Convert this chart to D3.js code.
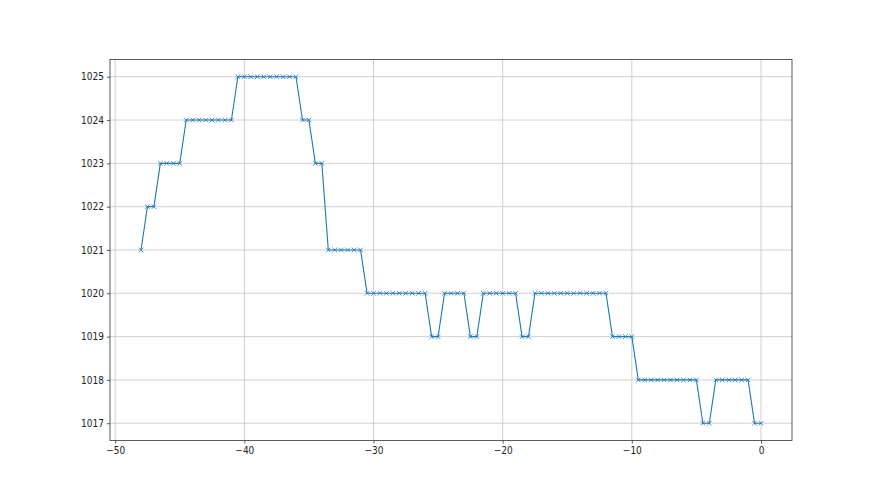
<!DOCTYPE html>
<html>
<head>
<meta charset="utf-8">
<script src="https://cdn.jsdelivr.net/npm/d3@7"></script>
<style>
  body { margin: 0; background: #fff; }
  svg { display: block; }
  .tick text { font-family: "Liberation Sans Narrow", "DejaVu Sans Condensed", sans-serif; font-size: 10px; fill: #222; }
</style>
</head>
<body>
<div class="chart"></div>
<script>
// hours relative to now
var hours = [-48, -47.5, -47, -46.5, -46, -45.5, -45, -44.5, -44, -43.5, -43, -42.5, -42, -41.5, -41,
    -40.5, -40, -39.5, -39, -38.5, -38, -37.5, -37, -36.5, -36, -35.5, -35, -34.5, -34,
    -33.5, -33, -32.5, -32, -31.5, -31, -30.5, -30, -29.5, -29, -28.5, -28, -27.5, -27, -26.5, -26,
    -25.5, -25, -24.5, -24, -23.5, -23, -22.5, -22, -21.5, -21, -20.5, -20, -19.5, -19,
    -18.5, -18, -17.5, -17, -16.5, -16, -15.5, -15, -14.5, -14, -13.5, -13, -12.5, -12,
    -11.5, -11, -10.5, -10, -9.5, -9, -8.5, -8, -7.5, -7, -6.5, -6, -5.5, -5,
    -4.5, -4, -3.5, -3, -2.5, -2, -1.5, -1, -0.5, 0];

// pressure readings
var pressure = [1021, 1022, 1022, 1023, 1023, 1023, 1023, 1024, 1024, 1024, 1024, 1024, 1024, 1024, 1024,
    1025, 1025, 1025, 1025, 1025, 1025, 1025, 1025, 1025, 1025, 1024, 1024, 1023, 1023,
    1021, 1021, 1021, 1021, 1021, 1021, 1020, 1020, 1020, 1020, 1020, 1020, 1020, 1020, 1020, 1020,
    1019, 1019, 1020, 1020, 1020, 1020, 1019, 1019, 1020, 1020, 1020, 1020, 1020, 1020,
    1019, 1019, 1020, 1020, 1020, 1020, 1020, 1020, 1020, 1020, 1020, 1020, 1020, 1020,
    1019, 1019, 1019, 1019, 1018, 1018, 1018, 1018, 1018, 1018, 1018, 1018, 1018, 1018,
    1017, 1017, 1018, 1018, 1018, 1018, 1018, 1018, 1017, 1017];

var xTicks = [-50, -40, -30, -20, -10, 0];
var yTicks = [1017, 1018, 1019, 1020, 1021, 1022, 1023, 1024, 1025];

var data = hours.map(function (h, i) { return {h: h, p: pressure[i]}; });

var W = 880, H = 495;
var margin = {top: 59.4, right: 88, bottom: 54.45, left: 110},
    width = W - margin.left - margin.right,
    height = H - margin.top - margin.bottom;

var xPad = (d3.max(hours) - d3.min(hours)) * 0.05;
var yPad = (d3.max(pressure) - d3.min(pressure)) * 0.05;

var x = d3.scaleLinear()
    .domain([d3.min(hours) - xPad, d3.max(hours) + xPad])
    .range([0, width]);
var y = d3.scaleLinear()
    .domain([d3.min(pressure) - yPad, d3.max(pressure) + yPad])
    .range([height, 0]);

var svg = d3.select("div.chart").append("svg")
    .attr("width", W)
    .attr("height", H)
    .append("g")
    .attr("transform", "translate(" + margin.left + "," + margin.top + ")");

// grid
svg.append("g")
    .selectAll("line.gx")
    .data(xTicks)
    .enter().append("line")
    .attr("x1", function (d) { return x(d); })
    .attr("x2", function (d) { return x(d); })
    .attr("y1", 0).attr("y2", height)
    .attr("stroke", "#c4c4c4").attr("stroke-width", 0.8);
svg.append("g")
    .selectAll("line.gy")
    .data(yTicks)
    .enter().append("line")
    .attr("y1", function (d) { return y(d); })
    .attr("y2", function (d) { return y(d); })
    .attr("x1", 0).attr("x2", width)
    .attr("stroke", "#c4c4c4").attr("stroke-width", 0.8);

var fmt = function (d) { return d < 0 ? "\u2212" + Math.abs(d) : String(d); };

var xAxis = d3.axisBottom(x).tickValues(xTicks).tickFormat(fmt).tickSize(3).tickPadding(3);
var yAxis = d3.axisLeft(y).tickValues(yTicks).tickFormat(d3.format("d")).tickSize(3).tickPadding(3);

var gx = svg.append("g")
    .attr("transform", "translate(0," + height + ")")
    .call(xAxis);
var gy = svg.append("g")
    .call(yAxis);
[gx, gy].forEach(function (g) {
    g.select(".domain").remove();
    g.selectAll(".tick line").attr("stroke", "#333").attr("stroke-width", 0.8);
});

var valueline = d3.line()
    .x(function (d) { return x(d.h); })
    .y(function (d) { return y(d.p); });

svg.append("path")
    .datum(data)
    .attr("d", valueline)
    .attr("stroke", "#1f77b4")
    .attr("stroke-width", 1.1)
    .attr("fill", "none");

var m = 2.3;
svg.append("g")
    .selectAll("path.mark")
    .data(data)
    .enter().append("path")
    .attr("d", function (d) {
        var cx = x(d.h), cy = y(d.p);
        return "M" + (cx - m) + "," + (cy - m) + "L" + (cx + m) + "," + (cy + m) +
            "M" + (cx - m) + "," + (cy + m) + "L" + (cx + m) + "," + (cy - m);
    })
    .attr("stroke", "#1f77b4")
    .attr("stroke-width", 0.8)
    .attr("fill", "none");

// frame
svg.append("rect")
    .attr("width", width)
    .attr("height", height)
    .attr("fill", "none")
    .attr("stroke", "#333")
    .attr("stroke-width", 0.8);
</script>
</body>
</html>
